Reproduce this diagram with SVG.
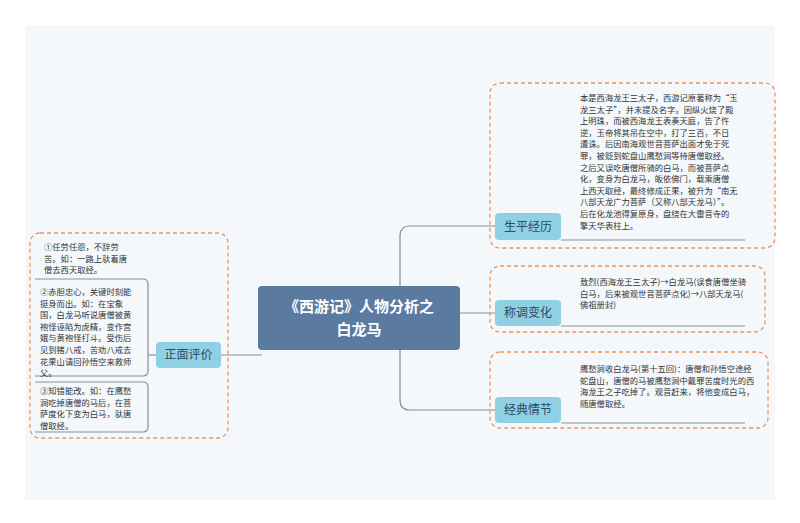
<svg xmlns="http://www.w3.org/2000/svg" width="800" height="523" viewBox="0 0 800 523">
<style>
.t{font-family:"Noto Sans CJK SC","Liberation Sans",sans-serif;font-size:8.3px;fill:#333}
.b{fill:#8fd0e4;}
.bt{font-family:"Noto Sans CJK SC",sans-serif;font-size:12px;fill:#2d4a5e;text-anchor:middle}
.d{fill:none;stroke:#f0935a;stroke-width:1.3;stroke-dasharray:4 3}
.l{fill:none;stroke:#8a8f98;stroke-width:1.2}
</style>
<rect width="800" height="523" fill="#fff"/>
<rect x="25" y="25" width="750" height="475" fill="#f4f8fb"/>
<g id="connectors">
<path class="l" d="M400,318 L400,236 Q400,226 410,226 L495,226"/>
<path class="l" d="M460,313 L495,313"/>
<path class="l" d="M400,318 L400,400 Q400,410 410,410 L495,410"/>
<path class="l" d="M561,240 L745,240 M561,326 L745,326 M561,423 L745,423"/>
<path class="l" d="M221,355 L262,355"/>
<path class="l" d="M148,355 L156,355"/>
<path class="l" d="M35,279 L143,279 Q148,279 148,284 L148,371 Q148,376 143,376 L35,376"/>
<path class="l" d="M35,382 L143,382 Q148,382 148,387 L148,427 Q148,432 143,432 L35,432"/>
</g>
<rect class="d" x="490" y="83" width="285" height="165" rx="10"/>
<rect class="d" x="490" y="266" width="275" height="66" rx="10"/>
<rect class="d" x="490" y="352" width="278" height="76" rx="10"/>
<rect class="d" x="30" y="233" width="198" height="205" rx="10"/>
<g id="center">
<rect x="258" y="286" width="202" height="64" rx="4" fill="#5b7aa0"/>
<text x="359" y="312" text-anchor="middle" font-family="Noto Sans CJK SC,sans-serif" font-size="15" font-weight="bold" fill="#fff">《西游记》人物分析之</text>
<text x="359" y="335" text-anchor="middle" font-family="Noto Sans CJK SC,sans-serif" font-size="15" font-weight="bold" fill="#fff">白龙马</text>
</g>
<g id="n1">
<rect class="b" x="495" y="213" width="66" height="27" rx="4"/>
<text class="bt" x="528" y="231">生平经历</text>
<text class="t" x="580" y="101">本是西海龙王三太子，西游记原著称为“玉</text>
<text class="t" x="580" y="112.6">龙三太子”，并未提及名字。因纵火烧了殿</text>
<text class="t" x="580" y="124.2">上明珠，而被西海龙王表奏天庭，告了忤</text>
<text class="t" x="580" y="135.8">逆，玉帝将其吊在空中，打了三百，不日</text>
<text class="t" x="580" y="147.4">遭诛。后因南海观世音菩萨出面才免于死</text>
<text class="t" x="580" y="159">罪，被贬到蛇盘山鹰愁涧等待唐僧取经。</text>
<text class="t" x="580" y="170.6">之后又误吃唐僧所骑的白马，而被菩萨点</text>
<text class="t" x="580" y="182.2">化，变身为白龙马，皈依佛门，载乘唐僧</text>
<text class="t" x="580" y="193.8">上西天取经，最终修成正果，被升为“南无</text>
<text class="t" x="580" y="205.4">八部天龙广力菩萨（又称八部天龙马）”。</text>
<text class="t" x="580" y="217">后在化龙池得复原身，盘绕在大雷音寺的</text>
<text class="t" x="580" y="228.6">擎天华表柱上。</text>
</g>
<g id="n2">
<rect class="b" x="495" y="300" width="66" height="26" rx="4"/>
<text class="bt" x="528" y="317">称调变化</text>
<text class="t" x="580" y="285">敖烈(西海龙王三太子)→白龙马(误食唐僧坐骑</text>
<text class="t" x="580" y="296.6">白马，后来被观世音菩萨点化)→八部天龙马(</text>
<text class="t" x="580" y="308.2">佛祖册封)</text>
</g>
<g id="n3">
<rect class="b" x="495" y="397" width="66" height="26" rx="4"/>
<text class="bt" x="528" y="414">经典情节</text>
<text class="t" x="580" y="372">鹰愁涧收白龙马(第十五回)：唐僧和孙悟空途经</text>
<text class="t" x="580" y="383.6">蛇盘山，唐僧的马被鹰愁涧中戴罪苦度时光的西</text>
<text class="t" x="580" y="395.2">海龙王之子吃掉了。观音赶来，将他变成白马，</text>
<text class="t" x="580" y="406.8">随唐僧取经。</text>
</g>
<g id="n4">
<rect class="b" x="156" y="342" width="65" height="26" rx="4"/>
<text class="bt" x="188.5" y="359">正面评价</text>
<text class="t" x="44" y="250">①任劳任怨，不辞劳</text>
<text class="t" x="44" y="261.6">苦。如：一路上驮着唐</text>
<text class="t" x="44" y="273.2">僧去西天取经。</text>
<text class="t" x="40" y="295">②赤胆忠心，关键时刻能</text>
<text class="t" x="40" y="306.6">挺身而出。如：在宝象</text>
<text class="t" x="40" y="318.2">国，白龙马听说唐僧被黄</text>
<text class="t" x="40" y="329.8">袍怪诬陷为虎精，变作宫</text>
<text class="t" x="40" y="341.4">娥与黄袍怪打斗。受伤后</text>
<text class="t" x="40" y="353">见到猪八戒，苦劝八戒去</text>
<text class="t" x="40" y="364.6">花果山请回孙悟空来救师</text>
<text class="t" x="40" y="376.2">父。</text>
<text class="t" x="40" y="394">③知错能改。如：在鹰愁</text>
<text class="t" x="40" y="405.6">涧吃掉唐僧的马后，在菩</text>
<text class="t" x="40" y="417.2">萨度化下变为白马，驮唐</text>
<text class="t" x="40" y="428.8">僧取经。</text>
</g>
</svg>
